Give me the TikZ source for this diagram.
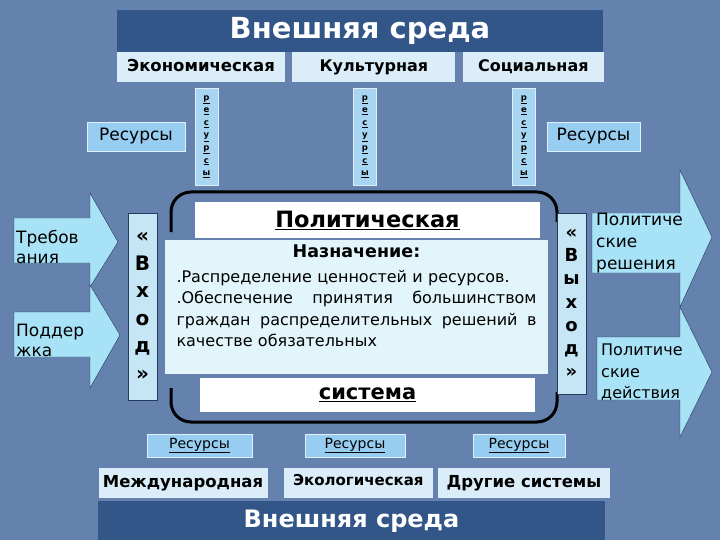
\documentclass[tikz,border=0pt]{standalone}
\usepackage{fontspec}
\setmainfont{DejaVu Sans}
\usetikzlibrary{positioning}

\definecolor{bgblue}{RGB}{100,130,173}
\definecolor{bandblue}{RGB}{50,86,136}
\definecolor{envfill}{RGB}{218,237,249}
\definecolor{resfill}{RGB}{150,205,240}
\definecolor{stripfill}{RGB}{168,214,242}
\definecolor{arrowfill}{RGB}{168,226,246}
\definecolor{goalfill}{RGB}{226,245,250}
\definecolor{gatefill}{RGB}{198,230,246}

% letters of the vertical resource strips
\newcommand{\resletters}{\underline{р}\\\underline{е}\\\underline{с}\\\underline{у}\\\underline{р}\\\underline{с}\\\underline{ы}}

\begin{document}
\begin{tikzpicture}[x=1pt, y=-1pt,
    band/.style={fill=bandblue, text=white, inner sep=0pt, font=\bfseries\fontsize{29}{31}\selectfont},
    envbox/.style={fill=envfill, inner sep=0pt, minimum height=30pt, text height=12pt, text depth=3pt, font=\bfseries\fontsize{16}{18}\selectfont},
    resbox/.style={fill=resfill, draw=white!70!resfill, inner sep=0pt, font=\fontsize{17}{19}\selectfont},
    resstrip/.style={fill=stripfill, draw=white!60!stripfill, inner sep=0pt, minimum width=23pt, minimum height=97pt, align=center, font=\bfseries\fontsize{8.5}{12.6}\selectfont},
    whitebox/.style={fill=white, inner sep=0pt, font=\bfseries\fontsize{22.5}{24}\selectfont},
    gate/.style={fill=gatefill, draw=bandblue!70!black, inner sep=0pt, minimum width=29pt, align=center},
    bigarrow/.style={fill=arrowfill, draw=bandblue!60!black, line join=miter},
    arrowtext/.style={inner sep=0pt, align=left, anchor=north west, font=\fontsize{17}{20}\selectfont},
    frame/.style={line width=3pt, rounded corners=20pt}
]
\useasboundingbox (0,0) rectangle (720,540);
\fill[bgblue] (0,0) rectangle (720,540);

% top environment
\node[band, minimum width=486pt, minimum height=42pt] (envtop) at (360,31) {Внешняя среда};
\node[envbox, minimum width=168pt, font=\bfseries\fontsize{16.5}{18}\selectfont] (econ) at (201,67) {Экономическая};
\node[envbox, minimum width=163pt, right=7pt of econ] (cult) {Культурная};
\node[envbox, minimum width=141pt, right=7pt of cult] (soc) {Социальная};

\node[resstrip] (res1) at (206.5,136.5) {\resletters};
\node[resstrip] (res2) at (365,136.5) {\resletters};
\node[resstrip] (res3) at (524,136.5) {\resletters};
\node[resbox, minimum width=98pt, minimum height=29pt] (resL) at (136,136.5) {Ресурсы};
\node[resbox, minimum width=93pt, minimum height=29pt] (resR) at (593.5,136.5) {Ресурсы};

% political system
\draw[frame] (171,232) -- (171,192) -- (557,192) -- (557,222);
\draw[frame] (171,388) -- (171,422) -- (557,422) -- (557,392);
\node[whitebox, minimum width=345pt, minimum height=36pt] (polit) at (367.5,220) {\underline{Политическая}};
\node[fill=goalfill, inner sep=0pt, minimum width=383pt, minimum height=134pt] (goal) at (356.5,307) {};
\node[inner sep=0pt, text width=360pt, align=left, anchor=north, font=\fontsize{16}{21.5}\selectfont] (goaltxt) at ([yshift=-5pt]goal.north)
  {\makebox[\hsize]{\bfseries\fontsize{17.5}{19}\selectfont Назначение:}\\[3pt]
   .Распределение ценностей и ресурсов.\\
   \makebox[\hsize]{.Обеспечение\hfill принятия\hfill большинством}\\
   \makebox[\hsize]{граждан\hfill распределительных\hfill решений\hfill в}\\
   качестве обязательных};
\node[whitebox, minimum width=335pt, minimum height=34pt, font=\bfseries\fontsize{21}{23}\selectfont] (sys) at (367.5,395) {\underline{система}};

% input and output
\node[gate, minimum height=187pt, font=\bfseries\fontsize{20}{27.5}\selectfont] (input) at (142.5,306.5) {«\\В\\х\\о\\д\\»};
\node[gate, minimum height=181pt, font=\bfseries\fontsize{18}{23.2}\selectfont] (output) at (571.5,303.5) {«\\В\\ы\\х\\о\\д\\»};

\draw[bigarrow] (14,218) -- (90,218) -- (90,193) -- (118,242) -- (90,287) -- (90,263) -- (14,263) -- cycle;
\draw[bigarrow] (14,312) -- (90,312) -- (90,285) -- (120,335) -- (90,388) -- (90,357) -- (14,357) -- cycle;
\draw[bigarrow] (592,213) -- (680,213) -- (680,170) -- (712,237) -- (680,307) -- (680,273) -- (592,273) -- cycle;
\draw[bigarrow] (597,337) -- (680,337) -- (680,307) -- (712,372) -- (680,437) -- (680,400) -- (597,400) -- cycle;
\node[arrowtext] (demand) at (16,230) {Требов\\ания};
\node[arrowtext] (support) at (16,324) {Поддер\\жка};
\node[arrowtext, font=\fontsize{17}{22}\selectfont] (decis) at (596,213) {Политиче\\ские\\решения};
\node[arrowtext, font=\fontsize{16}{21.5}\selectfont] (action) at (601,344) {Политиче\\ские\\действия};

% bottom environment
\node[resbox, minimum width=105pt, minimum height=23pt, font=\fontsize{14}{16}\selectfont] (resB1) at (199.5,445.5) {\underline{Ресурсы}};
\node[resbox, minimum width=100pt, minimum height=23pt, font=\fontsize{14}{16}\selectfont] (resB2) at (355,445.5) {\underline{Ресурсы}};
\node[resbox, minimum width=92pt, minimum height=23pt, font=\fontsize{14}{16}\selectfont] (resB3) at (519,445.5) {\underline{Ресурсы}};
\node[envbox, minimum width=169pt, font=\bfseries\fontsize{16.5}{18}\selectfont] (inter) at (183,483) {Международная};
\node[envbox, minimum width=149pt, text depth=7pt, font=\bfseries\fontsize{15}{17}\selectfont, right=16pt of inter] (eco) {Экологическая};
\node[envbox, minimum width=172pt, font=\bfseries\fontsize{16.5}{18}\selectfont] (other) at (524,483) {Другие системы};
\node[band, minimum width=507pt, minimum height=40pt, font=\bfseries\fontsize{24}{26}\selectfont] (envbot) at (351.5,521) {Внешняя среда};
\end{tikzpicture}
\end{document}
